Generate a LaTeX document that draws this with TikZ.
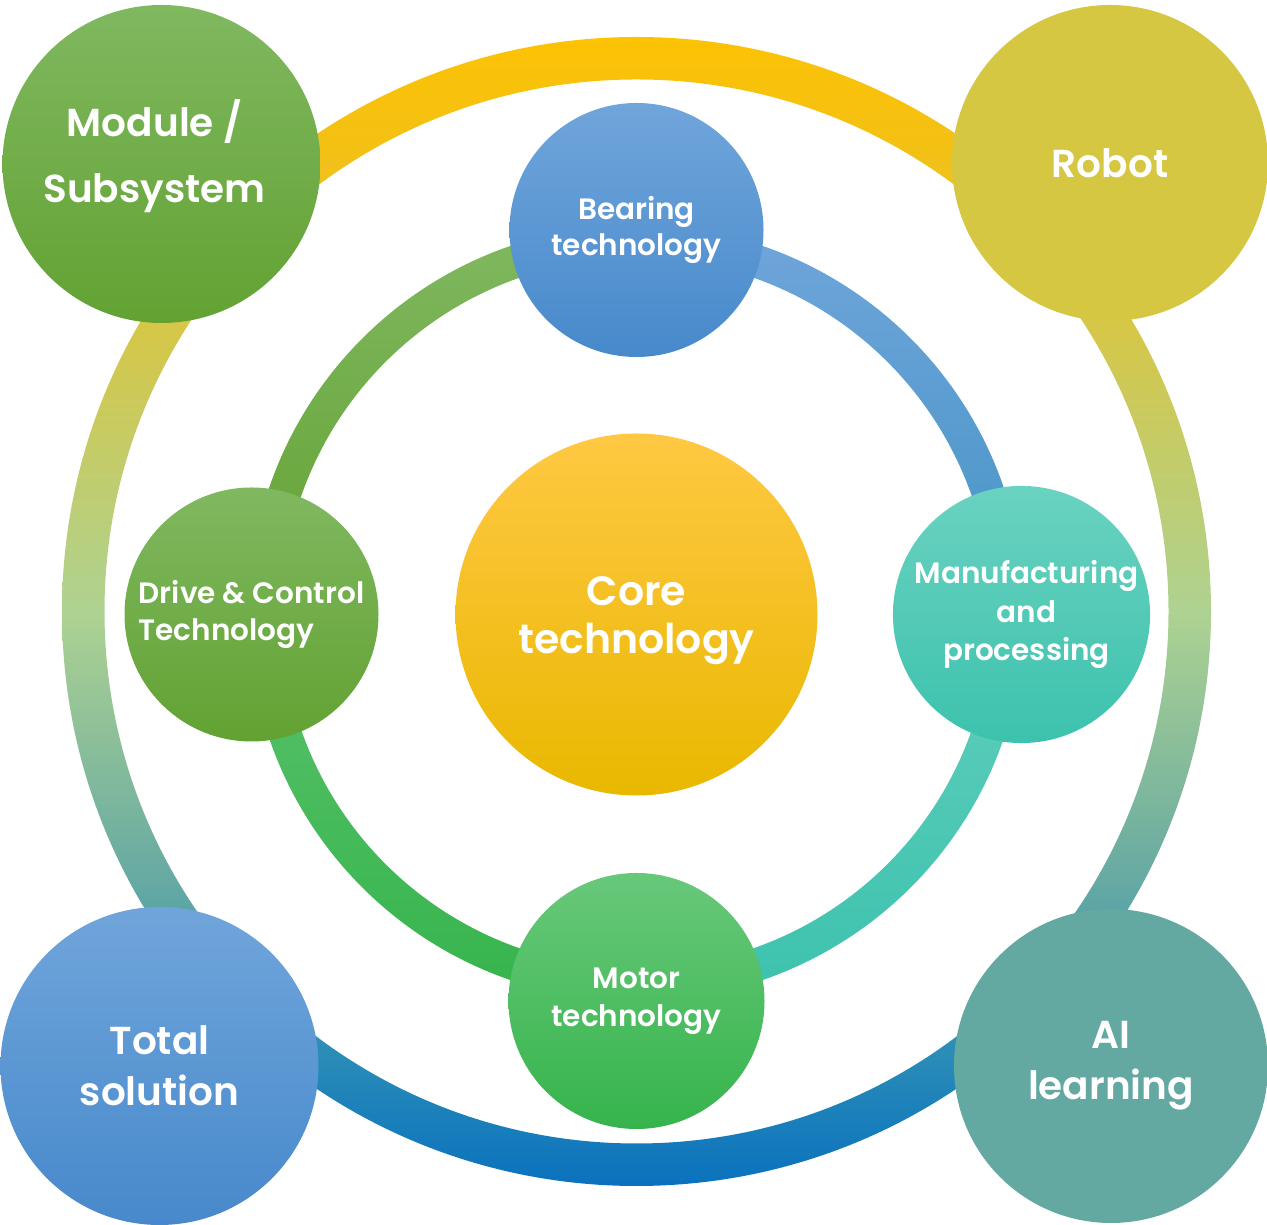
\documentclass[tikz,border=0pt]{standalone}
\usepackage{fontspec}
\setmainfont{Poppins}[BoldFont={Poppins SemiBold}]
\usepackage{tikz}
\usetikzlibrary{shadings}
\newcommand{\ringout}{574.5}
\newcommand{\ringin}{532}
\newcommand{\loopout}{388}
\newcommand{\loopin}{355}

\definecolor{ringgold}{HTML}{FCC204}
\definecolor{ringamber}{HTML}{F3C115}
\definecolor{ringolive}{HTML}{D4C74A}
\definecolor{ringlime}{HTML}{AED291}
\definecolor{ringteal}{HTML}{64A9A3}
\definecolor{ringsea}{HTML}{2B8DB7}
\definecolor{ringblue}{HTML}{0A72BE}
\pgfdeclareverticalshading{outerring}{100bp}{color(0bp)=(ringblue); color(25bp)=(ringblue); color(31bp)=(ringsea); color(38bp)=(ringteal); color(50bp)=(ringlime); color(62bp)=(ringolive); color(70bp)=(ringamber); color(75bp)=(ringgold); color(100bp)=(ringgold)}

\definecolor{greentop}{HTML}{80B860}
\definecolor{greenbot}{HTML}{62A232}
\definecolor{bluetop}{HTML}{70A5DB}
\definecolor{bluebot}{HTML}{4789CB}
\definecolor{aquatop}{HTML}{6AD2C0}
\definecolor{aquabot}{HTML}{3CC2AE}
\definecolor{leaftop}{HTML}{68C87A}
\definecolor{leafbot}{HTML}{36B44C}
\definecolor{coretop}{HTML}{FFC843}
\definecolor{coremid}{HTML}{FDC40A}
\definecolor{corebot}{HTML}{E9B800}
\definecolor{robotfill}{HTML}{D6C743}
\definecolor{aifill}{HTML}{63A9A2}

\tikzset{
  bubble/.style={circle, inner sep=0pt, text=white, align=center},
  bigtext/.style={font=\fontsize{39}{51}\selectfont\bfseries},
  smalltext/.style={font=\fontsize{29.5}{37}\selectfont\bfseries}
}

\begin{document}
\begin{tikzpicture}[x=1pt,y=1pt]
    \useasboundingbox (0,0) rectangle (1267,1225);
    \coordinate (oc) at (636.5,613.5);
    \coordinate (ic) at (636.5,612);

    % outer ring
    \shade[shading=outerring, even odd rule] (oc) circle[radius=\ringout] (oc) circle[radius=\ringin];

    \node[bubble, minimum size=318, top color=greentop, bottom color=greenbot,
          font=\fontsize{39}{66}\selectfont\bfseries] (module) at (161.5,1061) {Module /\rule{14pt}{0pt}\\Subsystem\rule{14pt}{0pt}\\[-40pt]};
    \node[bubble, bigtext, minimum size=316, fill=robotfill] (robot) at (1110,1062) {Robot};
    \node[bubble, bigtext, minimum size=318, top color=bluetop, bottom color=bluebot] (total) at (159.5,159) {Total\\solution};
    \node[bubble, bigtext, minimum size=314, fill=aifill] (ai) at (1111,159) {AI\\learning};

    % inner ring
    \shade[top color=greentop, bottom color=greenbot] (ic) ++(90:\loopout) arc[start angle=90, end angle=180, radius=\loopout]
        -- ([shift={(180:\loopin)}]ic) arc[start angle=180, end angle=90, radius=\loopin] -- cycle;
    \shade[top color=bluetop, bottom color=bluebot!80!aquabot] (ic) ++(0:\loopout) arc[start angle=0, end angle=90, radius=\loopout]
        -- ([shift={(90:\loopin)}]ic) arc[start angle=90, end angle=0, radius=\loopin] -- cycle;
    \shade[top color=aquatop!80!aquabot, bottom color=aquabot] (ic) ++(270:\loopout) arc[start angle=270, end angle=360, radius=\loopout]
        -- ([shift={(360:\loopin)}]ic) arc[start angle=360, end angle=270, radius=\loopin] -- cycle;
    \shade[top color=leaftop!70!leafbot, bottom color=leafbot] (ic) ++(180:\loopout) arc[start angle=180, end angle=270, radius=\loopout]
        -- ([shift={(270:\loopin)}]ic) arc[start angle=270, end angle=180, radius=\loopin] -- cycle;

    \node[bubble, minimum size=254, top color=bluetop, bottom color=bluebot,
          font=\fontsize{29.5}{36}\selectfont\bfseries] (bearing) at (636.5,995) {Bearing\\technology};
    \node[bubble, minimum size=256, top color=leaftop, bottom color=leafbot,
          font=\fontsize{29.5}{38}\selectfont\bfseries] (motor) at (636.5,224) {Motor\\technology};
    \node[bubble, smalltext, minimum size=254, top color=greentop, bottom color=greenbot, align=left] (drive) at (251.5,610.5) {Drive \& Control\\Technology};
    \node[bubble, minimum size=254, top color=aquatop, bottom color=aquabot,
          font=\fontsize{29.5}{38.5}\selectfont\bfseries] (manuf) at (1021.5,610.5) {\hspace{10pt}Manufacturing\\\hspace{10pt}and\\\hspace{10pt}processing};

    \node[bubble, minimum size=362, top color=coretop, middle color=coremid, bottom color=corebot,
          font=\fontsize{41}{48}\selectfont\bfseries] (core) at (636.5,610.5) {\rule{0pt}{41pt}Core\\technology};
\end{tikzpicture}
\end{document}
